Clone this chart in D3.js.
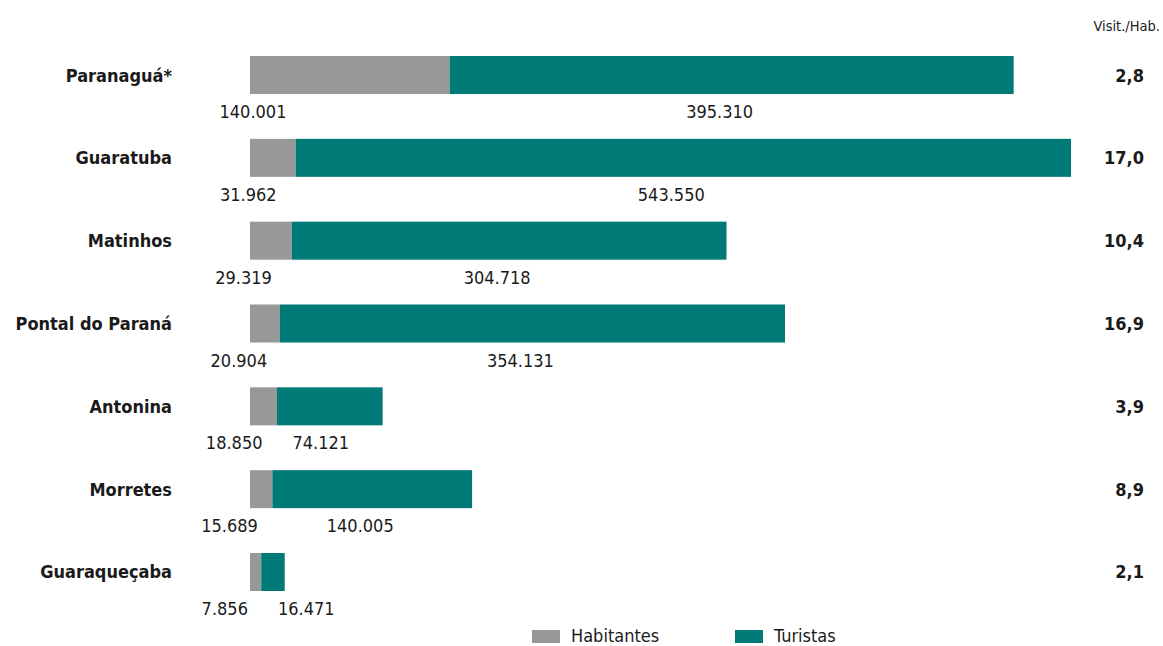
<!DOCTYPE html>
<html><head><meta charset="utf-8">
<script src="https://cdn.jsdelivr.net/npm/d3@7"></script>
<style>body{margin:0;background:#fff}svg{display:block}</style>
</head><body>
<svg id="c" width="1163" height="646"></svg>
<script>
const categories = ["Paranaguá*","Guaratuba","Matinhos","Pontal do Paraná","Antonina","Morretes","Guaraqueçaba"];
const habitantes = [140001,31962,29319,20904,18850,15689,7856];
const turistas = [395310,543550,304718,354131,74121,140005,16471];
const ratioLabels = ["2,8","17,0","10,4","16,9","3,9","8,9","2,1"];
const seriesNames = ["Habitantes","Turistas"];
const colors = ["#989898","#007a77"];

const svg = d3.select("#c");
const font = "'DejaVu Sans Condensed','DejaVu Sans',sans-serif";
const fmt = d3.formatLocale({decimal:",",thousands:".",grouping:[3],currency:["",""]}).format(",d");

const totals = categories.map((c,i)=>habitantes[i]+turistas[i]);
const x = d3.scaleLinear().domain([0,d3.max(totals)]).range([250,1071]);
const y = d3.scaleBand().domain(categories).range([56,591]).paddingInner(0.541).paddingOuter(0);

const rows = categories.map((c,i)=>({c,i,h:habitantes[i],t:turistas[i],r:ratioLabels[i]}));
const g = svg.append("g");

g.selectAll("rect.h").data(rows).join("rect")
  .attr("x",x(0)).attr("y",d=>y(d.c)).attr("width",d=>x(d.h)-x(0)).attr("height",y.bandwidth())
  .attr("fill",colors[0]);
g.selectAll("rect.t").data(rows).join("rect")
  .attr("x",d=>x(d.h)).attr("y",d=>y(d.c)).attr("width",d=>x(d.h+d.t)-x(d.h)).attr("height",y.bandwidth())
  .attr("fill",colors[1]);

// category labels
g.selectAll("text.cat").data(rows).join("text")
  .attr("x",172).attr("y",d=>y(d.c)+y.bandwidth()/2+6.5)
  .attr("text-anchor","end").attr("font-family",font).attr("font-weight","bold")
  .attr("font-size",18).attr("fill","#1a1a1a").text(d=>d.c);

// ratio labels
g.selectAll("text.ratio").data(rows).join("text")
  .attr("x",1144).attr("y",d=>y(d.c)+y.bandwidth()/2+6.5)
  .attr("text-anchor","end").attr("font-family",font).attr("font-weight","bold")
  .attr("font-size",18).attr("fill","#1a1a1a").text(d=>d.r);

svg.append("text").attr("x",1160).attr("y",31).attr("text-anchor","end")
  .attr("font-family",font).attr("font-size",14.5).attr("fill","#1a1a1a").text("Visit./Hab.");

// value labels
rows.forEach(d=>{
  const yy = y(d.c)+y.bandwidth()+24;
  const hc = x(0)+3-4.7*d.i;
  const ht = g.append("text").attr("x",hc).attr("y",yy).attr("text-anchor","middle")
    .attr("font-family",font).attr("font-size",18).attr("fill","#1a1a1a").text(fmt(d.h));
  const hw = ht.node().getComputedTextLength();
  const tt = g.append("text").attr("y",yy).attr("text-anchor","middle")
    .attr("font-family",font).attr("font-size",18).attr("fill","#1a1a1a").text(fmt(d.t));
  const tw = tt.node().getComputedTextLength();
  const mid = (x(d.h)+x(d.h+d.t))/2;
  tt.attr("x",Math.max(mid-12, hc+hw/2+30+tw/2));
});

// legend
const legX = [532,735];
seriesNames.forEach((s,i)=>{
  svg.append("rect").attr("x",legX[i]).attr("y",630).attr("width",28).attr("height",13).attr("fill",colors[i]);
  svg.append("text").attr("x",legX[i]+39).attr("y",642).attr("font-family",font).attr("font-size",18)
    .attr("fill","#1a1a1a").text(s);
});
</script>
</body></html>
